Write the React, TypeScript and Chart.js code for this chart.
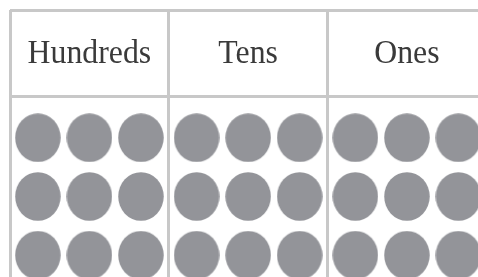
import { useEffect, useRef } from "react";
import { Chart, registerables } from "chart.js";

Chart.register(...registerables);

// Place-value columns and how many counters sit in each
const places = ["Hundreds", "Tens", "Ones"];
const counters = [9, 9, 9];
const perRow = 3;

export default function App() {
  const ref = useRef<HTMLCanvasElement>(null);

  useEffect(() => {
    const canvas = ref.current!;

    // counter marker (slightly taller than wide, as in the reference)
    const dot = document.createElement("canvas");
    dot.width = 46;
    dot.height = 49;
    const dctx = dot.getContext("2d")!;
    dctx.fillStyle = "#939499";
    dctx.beginPath();
    dctx.ellipse(23, 24.5, 22.75, 24.25, 0, 0, Math.PI * 2);
    dctx.fill();

    const points: { x: number; y: number }[] = [];
    counters.forEach((n, c) => {
      for (let k = 0; k < n; k++) {
        const col = k % perRow;
        const row = Math.floor(k / perRow);
        points.push({ x: c + 0.5 + (col - 1) * 0.3245, y: 1.468 + row * 0.675 });
      }
    });

    const headerPlugin = {
      id: "headers",
      afterDraw(chart: any) {
        const { ctx, scales } = chart;
        const x = scales.x;
        const y = scales.y;
        ctx.save();
        ctx.fillStyle = "#3a3a3a";
        ctx.font = '34px "Liberation Serif"';
        ctx.textAlign = "center";
        ctx.textBaseline = "alphabetic";
        places.forEach((p, i) => {
          ctx.save();
          ctx.translate(x.getPixelForValue(i + 0.5), y.getPixelForValue(0.605));
          ctx.scale(0.935, 1);
          ctx.fillText(p, 0, 0);
          ctx.restore();
        });
        ctx.restore();
      },
    };

    const chart = new Chart(canvas, {
      type: "scatter",
      data: {
        datasets: [
          {
            data: points,
            pointStyle: dot as any,
            pointRadius: 24,
            pointHoverRadius: 24,
          },
        ],
      },
      options: {
        animation: false,
        responsive: false,
        events: [],
        layout: { padding: { left: 10, top: 10, right: 0, bottom: 0 }, autoPadding: false } as any,
        plugins: { legend: { display: false }, tooltip: { enabled: false } },
        scales: {
          x: {
            type: "linear",
            min: 0,
            max: 2.948,
            ticks: { display: false },
            border: { display: false },
            grid: { color: "#c8c8c8", lineWidth: 3, drawTicks: false },
            afterBuildTicks: (s: any) => {
              s.ticks = places.map((_, i) => ({ value: i })).concat([{ value: places.length }]);
            },
          },
          y: {
            type: "linear",
            reverse: true,
            min: 0,
            max: 3.069,
            ticks: { display: false },
            border: { display: false },
            grid: { color: "#c8c8c8", lineWidth: 3, drawTicks: false },
            afterBuildTicks: (s: any) => {
              s.ticks = [{ value: 0 }, { value: 1 }];
            },
          },
        },
      },
      plugins: [headerPlugin],
    });

    return () => chart.destroy();
  }, []);

  return (
    <canvas
      ref={ref}
      width={478}
      height={277}
      style={{ position: "fixed", left: 0, top: 0, width: 478, height: 277, background: "#fff" }}
    />
  );
}
